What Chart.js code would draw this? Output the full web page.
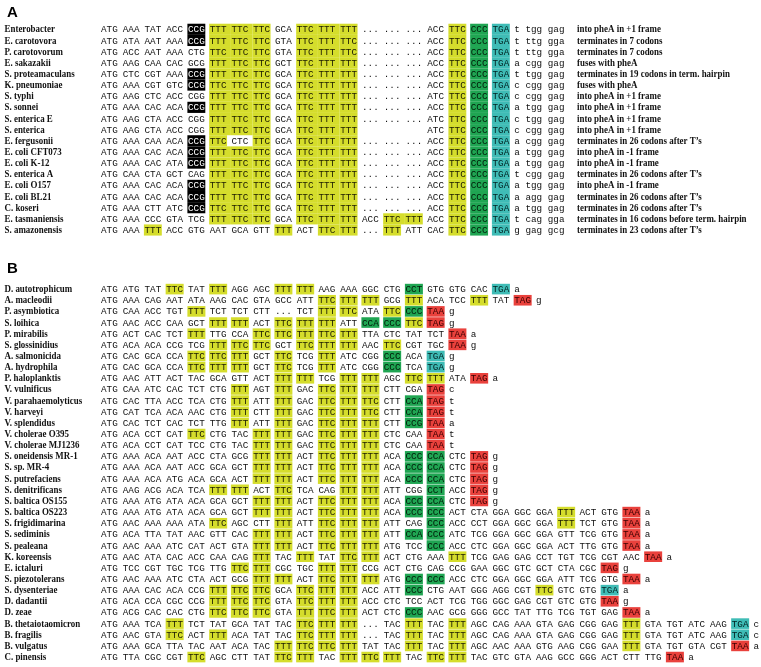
<!DOCTYPE html>
<html><head><meta charset="utf-8">
<script src="https://cdn.jsdelivr.net/npm/chart.js@4/dist/chart.umd.min.js"></script>
<style>html,body{margin:0;padding:0;background:#fff;}#wrap{width:761px;height:667px;}</style>
</head><body><div id="wrap"><canvas id="c" width="761" height="667"></canvas></div>
<script>
// ---------- DATA ----------
const panelLetters = ["A", "B"];

const speciesA = ["Enterobacter","E. carotovora","P. carotovorum","E. sakazakii","S. proteamaculans","K. pneumoniae","S. typhi","S. sonnei","S. enterica E","S. enterica","E. fergusonii","E. coli CFT073","E. coli K-12","S. enterica A","E. coli O157","E. coli BL21","C. koseri","E. tasmaniensis","S. amazonensis"];
// prefix: k = black, g = green, c = teal, r = red ; TTT/TTC (Phe) are yellow ; "-" = empty
const codonsA = [
"ATG AAA TAT ACC kCCG TTT TTC TTC GCA TTC TTT TTT ... ... ... ACC TTC gCCC cTGA",
"ATG ATA AAT AAA kCCG TTT TTC TTC GTA TTC TTT TTC ... ... ... ACC TTC gCCC cTGA",
"ATG ACC AAT AAA CTG TTC TTC TTC GTA TTC TTT TTC ... ... ... ACC TTC gCCC cTGA",
"ATG AAG CAA CAC GCG TTT TTC TTC GCT TTC TTT TTT ... ... ... ACC TTC gCCC cTGA",
"ATG CTC CGT AAA kCCG TTT TTC TTC GCA TTC TTT TTT ... ... ... ACC TTC gCCC cTGA",
"ATG AAA CGT GTC kCCG TTC TTC TTC GCA TTC TTT TTT ... ... ... ACC TTC gCCC cTGA",
"ATG AAG CTC ACC CGG TTT TTC TTC GCA TTC TTT TTT ... ... ... ATC TTC gCCC cTGA",
"ATG AAA CAC ACA kCCG TTT TTC TTC GCA TTC TTT TTT ... ... ... ACC TTC gCCC cTGA",
"ATG AAG CTA ACC CGG TTT TTC TTC GCA TTC TTT TTT ... ... ... ATC TTC gCCC cTGA",
"ATG AAG CTA ACC CGG TTT TTC TTC GCA TTC TTT TTT - - - ATC TTC gCCC cTGA",
"ATG AAA CAA ACA kCCG TTC CTC TTC GCA TTC TTT TTT ... ... ... ACC TTC gCCC cTGA",
"ATG AAA CAC ACA kCCG TTT TTC TTC GCA TTC TTT TTT ... ... ... ACC TTC gCCC cTGA",
"ATG AAA CAC ATA kCCG TTT TTC TTC GCA TTC TTT TTT ... ... ... ACC TTC gCCC cTGA",
"ATG CAA CTA GCT CAG TTT TTC TTC GCA TTC TTT TTT ... ... ... ACC TTC gCCC cTGA",
"ATG AAA CAC ACA kCCG TTT TTC TTC GCA TTC TTT TTT ... ... ... ACC TTC gCCC cTGA",
"ATG AAA CAC ACA kCCG TTT TTC TTC GCA TTC TTT TTT ... ... ... ACC TTC gCCC cTGA",
"ATG AAA CTT ATC kCCG TTC TTC TTC GCA TTC TTT TTT ... ... ... ACC TTC gCCC cTGA",
"ATG AAA CCC GTA TCG TTT TTC TTC GCA TTC TTT TTT ACC TTC TTT ACC TTC gCCC cTGA",
"ATG AAA TTT ACC GTG AAT GCA GTT TTT ACT TTC TTT ... TTT ATT CAC TTC gCCC cTGA"];
const tailsA = ["t tgg gag","t ttg gga","t ttg gga","a cgg gag","t tgg gag","c cgg gag","c cgg gag","a tgg gag","c tgg gag","c cgg gag","a cgg gag","a tgg gag","a tgg gag","t cgg gag","a tgg gag","a agg gag","a tgg gag","t cag gga","g gag gcg"];
const notesA = ["into pheA in +1 frame","terminates in 7 codons","terminates in 7 codons","fuses with pheA","terminates in 19 codons in term. hairpin","fuses with pheA","into pheA in +1 frame","into pheA in +1 frame","into pheA in +1 frame","into pheA in +1 frame","terminates in 26 codons after T\u2019s","into pheA in -1 frame","into pheA in -1 frame","terminates in 26 codons after T\u2019s","into pheA in -1 frame","terminates in 26 codons after T\u2019s","terminates in 26 codons after T\u2019s","terminates in 16 codons before term. hairpin","terminates in 23 codons after T\u2019s"];

const speciesB = ["D. autotrophicum","A. macleodii","P. asymbiotica","S. loihica","P. mirabilis","S. glossinidius","A. salmonicida","A. hydrophila","P. haloplanktis","V. vulnificus","V. parahaemolyticus","V. harveyi","V. splendidus","V. cholerae O395","V. cholerae MJ1236","S. oneidensis MR-1","S. sp. MR-4","S. putrefaciens","S. denitrificans","S. baltica OS155","S. baltica OS223","S. frigidimarina","S. sediminis","S. pealeana","K. koreensis","E. ictaluri","S. piezotolerans","S. dysenteriae","D. dadantii","D. zeae","B. thetaiotaomicron","B. fragilis","B. vulgatus","C. pinensis"];
const codonsB = [
"ATG ATG TAT TTC TAT TTT AGG AGC TTT TTT AAG AAA GGC CTG gCCT GTG GTG CAC cTGA",
"ATG AAA CAG AAT ATA AAG CAC GTA GCC ATT TTC TTT TTT GCG TTT ACA TCC TTT TAT rTAG",
"ATG CAA ACC TGT TTT TCT TCT CTT ... TCT TTT TTC ATA TTC gCCC rTAA",
"ATG AAC ACC CAA GCT TTT TTT ACT TTC TTT TTT ATT gCCA gCCC TTC rTAG",
"ATG ACT CAC TCT TTT TTG CCA TTC TTC TTT TTC TTT TTA CTC TAT TCT rTAA",
"ATG ACA ACA CCG TCG TTT TTC TTC GCT TTC TTT TTT AAC TTC CGT TGC rTAA",
"ATG CAC GCA CCA TTC TTC TTT GCT TTC TCG TTT ATC CGG gCCC ACA cTGA",
"ATG CAC GCA CCA TTC TTT TTT GCT TTC TCG TTT ATC CGG gCCC TCA cTGA",
"ATG AAC ATT ACT TAC GCA GTT ACT TTT TTT TCG TTT TTT AGC TTC TTT ATA rTAG",
"ATG CAA ATC CAC TCT CTG TTT AGT TTT GAC TTC TTT TTT CTT CGA rTAG",
"ATG CAC TTA ACC TCA CTG TTT ATT TTT GAC TTC TTT TTC CTT gCCA rTAG",
"ATG CAT TCA ACA AAC CTG TTT CTT TTT GAC TTC TTT TTC CTT gCCA rTAG",
"ATG CAC TCT CAC TCT TTG TTT ATT TTT GAC TTC TTT TTT CTT gCCG rTAA",
"ATG ACA CCT CAT TTC CTG TAC TTT TTT GAC TTC TTT TTT CTC CAA rTAA",
"ATG ACA CCT CAT TCC CTG TAC TTT TTT GAC TTC TTT TTT CTC CAA rTAA",
"ATG AAA ACA AAT ACC CTA GCG TTT TTT ACT TTC TTT TTT ACA gCCC gCCA CTC rTAG",
"ATG AAA ACA AAT ACC GCA GCT TTT TTT ACT TTC TTT TTT ACA gCCC gCCA CTC rTAG",
"ATG AAA ACA ATG ACA GCA ACT TTT TTT ACT TTC TTT TTT ACA gCCC gCCA CTC rTAG",
"ATG AAG ACG ACA TCA TTT TTT ACT TTC TCA CAG TTT TTT ATT CGG gCCT ACC rTAG",
"ATG AAA ATG ATA ACA GCA GCT TTT TTT ACT TTC TTT TTT ACA gCCC gCCA CTC rTAG",
"ATG AAA ATG ATA ACA GCA GCT TTT TTT ACT TTC TTT TTT ACA gCCC gCCC ACT CTA GGA GGC GGA TTT ACT GTG rTAA",
"ATG AAC AAA AAA ATA TTC AGC CTT TTT ATT TTC TTT TTT ATT CAG gCCC ACC CCT GGA GGC GGA TTT TCT GTG rTAA",
"ATG ACA TTA TAT AAC GTT CAC TTT TTT ACT TTC TTT TTT ATT gCCA gCCC ATC TCG GGA GGC GGA GTT TCG GTG rTAA",
"ATG AAC AAA ATC CAT ACT GTA TTT TTT ACT TTC TTT TTT ATG TCC gCCC ACC CTC GGA GGC GGA ACT TTG GTG rTAA",
"ATG AAC ATA CAC ACC CAA CAG TTT TAC TTT TAT TTC TTT ACT CTG AAA TTT TCG GAG GAG CCT TGT TCG CGT AAC rTAA",
"ATG TCC CGT TGC TCG TTG TTC TTT CGC TGC TTT TTT CCG ACT CTG CAG CCG GAA GGC GTC GCT CTA CGC rTAG",
"ATG AAC AAA ATC CTA ACT GCG TTT TTT ACT TTC TTT TTT ATG gCCC gCCC ACC CTC GGA GGC GGA ATT TCG GTG rTAA",
"ATG AAA CAC ACA CCG TTT TTC TTC GCA TTC TTT TTT ACC ATT gCCC CTG AAT GGG AGG CGT TTC GTC GTG cTGA",
"ATG ACA CCA CGC CCG TTT TTC TTC GTA TTC TTT TTT ACC CTC TCC ACT TCG TGG GGC GAG CGT GTC GTG rTAA",
"ATG ACG CAC CAC CTG TTC TTC TTC GTA TTT TTC TTT ACT CTC gCCC AAC GCG GGG GCC TAT TTG TCG TGT GAG rTAA",
"ATG AAA TCA TTT TCT TAT GCA TAT TAC TTC TTT TTT ... TAC TTT TAC TTT AGC CAG AAA GTA GAG CGG GAG TTT GTA TGT ATC AAG cTGA",
"ATG AAC GTA TTC ACT TTT ACA TAT TAC TTC TTT TTT ... TAC TTT TAC TTT AGC CAG AAA GTA GAG CGG GAG TTT GTA TGT ATC AAG cTGA",
"ATG AAA GCA TTA TAC AAT ACA TAC TTT TTC TTC TTT TAT TAC TTT TAC TTT AGC AAC AAA GTG AAG CGG GAA TTT GTA TGT GTA CGT rTAA",
"ATG TTA CGC CGT TTC AGC CTT TAT TTC TTT TAC TTT TTC TTT TAC TTC TTT TAC GTC GTA AAG GCC GGG ACT CTT TTG rTAA"];
const tailsB = ["a","g","g","g","a","g","g","g","a","c","t","t","a","t","t","g","g","g","g","g","a","a","a","a","a","g","a","a","g","a","c","c","a","a"];

// ---------- LAYOUT (pixels -> scale units) ----------
const W = 761, H = 667;
const COL_PX = 21.75, X0_PX = 101;      // codon column pitch / first column
const ROW_PX = 11.15, Y0_PX = 29.3;     // row pitch / first row of panel A
const B_FIRST_PX = 289;                  // first row of panel B
const B_OFF = (B_FIRST_PX - Y0_PX) / ROW_PX;
const LABEL_X = (4.5 - X0_PX) / COL_PX;
const NOTE_X = (577 - X0_PX) / COL_PX;
const LETTER_X = (7 - X0_PX) / COL_PX;
const LETTER_Y = [(12.5 - Y0_PX) / ROW_PX, (268.5 - Y0_PX) / ROW_PX];

const COLORS = { y: "#d5dd2c", g: "#1fa552", c: "#3fbcb6", r: "#e9413c", k: "#000000" };
const TEXTCOL = { y: "#1a1a00", g: "#001a08", c: "#002020", r: "#3a0000", k: "#ffffff" };

function parseRow(str) {
  return str.split(" ").map(tok => {
    let hl = null, t = tok;
    if (/^[kgcr]/.test(tok)) { hl = tok[0]; t = tok.slice(1); }
    else if (tok === "TTT" || tok === "TTC") hl = "y";
    if (t === "-") t = "";
    return { t, hl };
  });
}

function buildCells(rows, rowOff, panel) {
  const out = [];
  rows.forEach((r, i) => parseRow(r).forEach((c, j) => out.push({ x: j, y: i + rowOff, t: c.t, hl: c.hl, panel, row: i, col: j })));
  return out;
}

const cellsA = buildCells(codonsA, 0, "A");
const cellsB = buildCells(codonsB, B_OFF, "B");
const tailPts = tailsA.map((t, i) => ({ x: parseRow(codonsA[i]).length, y: i, t }))
  .concat(tailsB.map((t, i) => ({ x: parseRow(codonsB[i]).length, y: i + B_OFF, t })));
const labelPts = speciesA.map((t, i) => ({ x: LABEL_X, y: i, t }))
  .concat(speciesB.map((t, i) => ({ x: LABEL_X, y: i + B_OFF, t })));
const notePts = notesA.map((t, i) => ({ x: NOTE_X, y: i, t }));
const letterPts = panelLetters.map((t, i) => ({ x: LETTER_X, y: LETTER_Y[i], t }));

const MONO = "9.3px 'Liberation Mono', 'Courier New', monospace";
const SERIF = "bold 9.6px 'Liberation Serif', 'Times New Roman', serif";

const painter = {
  id: "painter",
  afterDatasetsDraw(chart) {
    const ctx = chart.ctx, xs = chart.scales.x, ys = chart.scales.y;
    const dsets = chart.data.datasets;
    ctx.save();
    [0, 1].forEach(di => {
      const meta = chart.getDatasetMeta(di);
      const data = dsets[di].data;
      const key = {};
      data.forEach(d => { if (d.hl) key[d.row + ":" + d.col] = d.hl; });
      meta.data.forEach((el, k) => {
        const d = data[k];
        if (!d.hl) return;
        ctx.fillStyle = COLORS[d.hl];
        if (d.panel === "A") {
          const top = ys.getPixelForValue(d.y - 0.5), bot = ys.getPixelForValue(d.y + 0.5);
          let right = el.x + 17.3;
          if (key[d.row + ":" + (d.col + 1)] === d.hl) right = xs.getPixelForValue(d.x + 1) - 0.6;
          ctx.fillRect(el.x - 0.6, top, right - el.x + 0.6, bot - top);
        } else {
          ctx.fillRect(el.x - 0.6, el.y - 5.2, 18, 10.6);
        }
      });
      ctx.font = MONO; ctx.textBaseline = "middle"; ctx.textAlign = "left";
      meta.data.forEach((el, k) => {
        const d = data[k];
        if (!d.t) return;
        ctx.fillStyle = d.hl ? TEXTCOL[d.hl] : "#111";
        ctx.fillText(d.t, el.x, el.y + 0.6);
      });
    });
    const drawText = (di, font, color, sx) => {
      ctx.font = font; ctx.fillStyle = color; ctx.textBaseline = "middle"; ctx.textAlign = "left";
      chart.getDatasetMeta(di).data.forEach((el, k) => {
        ctx.save(); ctx.translate(el.x, el.y + 0.6); ctx.scale(sx, 1);
        ctx.fillText(dsets[di].data[k].t, 0, 0);
        ctx.restore();
      });
    };
    drawText(2, MONO, "#111", 1);
    drawText(3, SERIF, "#111", 0.93);
    drawText(4, SERIF, "#111", 0.93);
    drawText(5, "bold 15px 'Liberation Sans', Arial, sans-serif", "#000", 1);
    ctx.restore();
  }
};

const pt = { pointRadius: 0, pointHoverRadius: 0, showLine: false };
new Chart(document.getElementById("c"), {
  type: "scatter",
  data: {
    datasets: [
      Object.assign({ label: "codons A", data: cellsA }, pt),
      Object.assign({ label: "codons B", data: cellsB }, pt),
      Object.assign({ label: "tails", data: tailPts }, pt),
      Object.assign({ label: "species", data: labelPts }, pt),
      Object.assign({ label: "notes", data: notePts }, pt),
      Object.assign({ label: "panels", data: letterPts }, pt)
    ]
  },
  options: {
    responsive: false, animation: false, events: [],
    layout: { padding: 0 },
    plugins: { legend: { display: false }, tooltip: { enabled: false } },
    scales: {
      x: { type: "linear", display: false, min: -X0_PX / COL_PX, max: (W - X0_PX) / COL_PX },
      y: { type: "linear", display: false, reverse: true, min: -Y0_PX / ROW_PX, max: (H - Y0_PX) / ROW_PX }
    }
  },
  plugins: [painter]
});
</script></body></html>
